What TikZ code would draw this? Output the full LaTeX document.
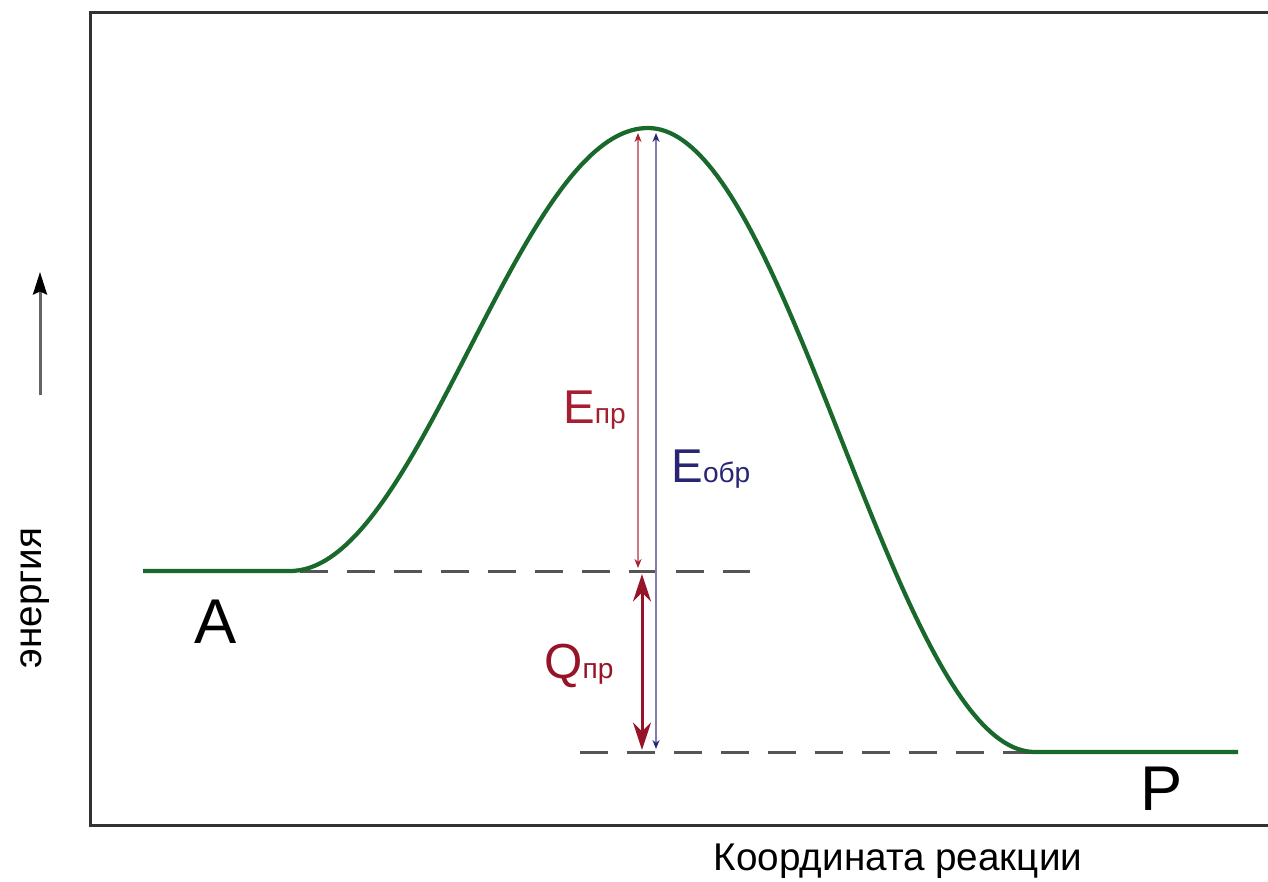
\documentclass[tikz,border=0pt]{standalone}
\usepackage{fontspec}
\setmainfont{Liberation Sans}
\usetikzlibrary{arrows.meta}
\definecolor{curvegreen}{RGB}{25,105,45}
\definecolor{redE}{RGB}{165,30,50}
\definecolor{qred}{RGB}{150,20,40}
\definecolor{blueE}{RGB}{40,38,115}
\definecolor{dashgray}{RGB}{85,85,85}
\definecolor{boxgray}{RGB}{50,50,50}
\definecolor{axisgray}{RGB}{100,100,100}
\newcommand\lowtext[1]{{\fontsize{16}{18}\selectfont #1}}
\begin{document}
\begin{tikzpicture}[x=0.02cm,y=-0.02cm,
  frame/.style={draw=boxgray,line width=0.06cm},
  curveline/.style={draw=curvegreen,line width=0.085cm,line join=round},
  levelline/.style={draw=dashgray,line width=0.06cm,dash pattern=on 0.56cm off 0.38cm},
  earrow/.style={line width=0.035cm,{Stealth[length=0.18cm,width=0.14cm,color=#1]}-{Stealth[length=0.18cm,width=0.14cm,color=#1]}},
  qarrow/.style={draw=qred,line width=0.06cm,{Stealth[length=0.55cm,width=0.36cm]}-{Stealth[length=0.55cm,width=0.36cm]}},
  axisarrow/.style={draw=axisgray,line width=0.06cm,-{Stealth[length=0.45cm,width=0.28cm,inset=0.06cm,color=black]}},
  biglabel/.style={font=\fontsize{27}{30}\selectfont,inner sep=0pt,anchor=base west},
  statelabel/.style={font=\fontsize{36}{40}\selectfont,inner sep=0pt,anchor=base},
  axislabel/.style={font=\fontsize{22}{25}\selectfont,inner sep=0pt,text=black}
]
\useasboundingbox (0,0) rectangle (1268,882);

% frame (open at the right)
\coordinate (fTR) at (1275,13);
\coordinate (fTL) at (90,13);
\coordinate (fBL) at (90,825);
\coordinate (fBR) at (1275,825);
\draw[frame] (fTR) -- (fTL) -- (fBL) -- (fBR);

% key points
\coordinate (Astart) at (143,571);
\coordinate (Aend) at (290,571);
\coordinate (TS) at (648,128);
\coordinate (Pstart) at (1035,752);
\coordinate (Pend) at (1238,752);

% level lines
\coordinate (uL) at (300,571);
\coordinate (uR) at (750,571);
\coordinate (lL) at (580,752);
\draw[levelline] (uL) -- (uR);
\draw[levelline] (lL) -- (Pstart);

% energy curve
\draw[curveline] (Astart) -- (Aend)
  -- plot[domain=290:648,samples=90] (\x,{571-221.5*(1-cos((\x-290)*0.502793))})
  -- plot[domain=648:1035,samples=90] (\x,{128+312*(1-cos((\x-648)*0.465116))})
  -- (Pend);

% arrows
\coordinate (eprTop) at (638,133);
\coordinate (eprBot) at (638,568);
\coordinate (eobTop) at (656,133);
\coordinate (eobBot) at (656,749);
\coordinate (qTop) at (642,574);
\coordinate (qBot) at (642,750);
\draw[earrow=redE,draw=redE!60] (eprBot) -- (eprTop);
\draw[earrow=blueE,draw=blueE!60] (eobBot) -- (eobTop);
\draw[qarrow] (qBot) -- (qTop);

% labels
\node[biglabel,text=redE] (Epr) at (563,423) {E\lowtext{пр}};
\node[biglabel,text=blueE] (Eobr) at (671,482) {E\lowtext{обр}};
\node[biglabel,text=qred,font=\fontsize{28}{30}\selectfont] (Qpr) at (544,678) {Q\lowtext{пр}};
\node[statelabel] (A) at (216,643) {A};
\node[statelabel] (P) at (1162,810) {P};

% axes labels
\coordinate (axB) at (40,395);
\coordinate (axT) at (40,272);
\draw[axisarrow] (axB) -- (axT);
\node[axislabel,rotate=90] (energy) at (35,598) {энергия};
\node[axislabel,anchor=base] (coord) at (898,870) {Координата реакции};
\end{tikzpicture}
\end{document}
